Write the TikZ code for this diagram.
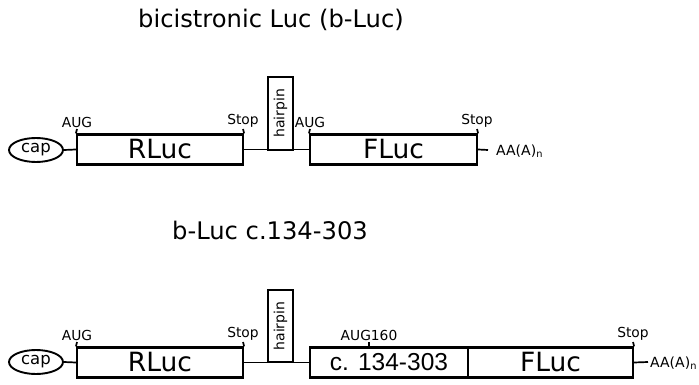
\documentclass[tikz,border=0pt]{standalone}
\usepackage{fontspec}
\setmainfont{DejaVu Sans}
\newfontfamily\arialf{Liberation Sans}
\usetikzlibrary{shapes.geometric}
\begin{document}
\begin{tikzpicture}[x=1pt,y=-1pt,
  genebox/.style={draw,line width=2.2pt,rectangle,inner sep=0pt,minimum height=30pt,font=\fontsize{26.5}{26.5}\selectfont},
  capnode/.style={draw,line width=1.9pt,ellipse,inner sep=0pt,minimum width=54pt,minimum height=24pt,font=\fontsize{16.5}{16.5}\selectfont},
  hpbox/.style={draw,line width=1.2pt,rectangle,inner sep=0pt,minimum width=25pt},
  hptext/.style={rotate=90,font=\fontsize{14}{14}\selectfont,inner sep=0pt},
  conn/.style={line width=1.7pt},
  tick/.style={line width=1.7pt},
  lab/.style={font=\fontsize{13.8}{14}\selectfont,inner sep=1pt,anchor=south},
  polya/.style={anchor=west,inner sep=0pt,font=\fontsize{14}{14}\selectfont},
  title/.style={font=\fontsize{24.2}{25}\selectfont}]
\useasboundingbox (0,0) rectangle (699,385);
% titles
\node[title] (t1) at (271,20) {bicistronic Luc (b-Luc)};
\node[title] (t2) at (270,230) {b-Luc c.134-303};
% row 1
\node[capnode] (cap1) at (36,150) {cap};
\node[genebox,minimum width=166pt] (rluc1) at (160,149.5) {RLuc};
\node[genebox,minimum width=167pt] (fluc1) at (393.5,149.5) {FLuc};
\node[hpbox,minimum height=73pt] (hp1) at (280.5,113.5) {};
\node[hptext] (hpt1) at (hp1.center) {hairpin};
\draw[conn] (cap1.east) -- (rluc1.west);
\draw[conn] (rluc1.east) -- (fluc1.west);
\coordinate (u1) at (77,129);
\coordinate (s1) at (243,129);
\coordinate (u1b) at (310,129);
\coordinate (s1b) at (477,129);
\draw[tick] (rluc1.north west) -- (u1);
\draw[tick] (rluc1.north east) -- (s1);
\draw[tick] (fluc1.north west) -- (u1b);
\draw[tick] (fluc1.north east) -- (s1b);
\node[lab] (lu1) at (u1) {AUG};
\node[lab] (ls1) at (s1) {Stop};
\node[lab] (lu1b) at (u1b) {AUG};
\node[lab] (ls1b) at (s1b) {Stop};
\coordinate (a1) at (488,150);
\draw[conn] (fluc1.east) -- (a1);
\node[polya] (pa1) at (496,151) {AA(A)\textsubscript{n}};
% row 2
\node[capnode] (cap2) at (36,362) {cap};
\node[genebox,minimum width=166pt] (rluc2) at (160,362.5) {RLuc};
\node[genebox,minimum width=158pt,font=\arialf\fontsize{24.5}{24.5}\selectfont] (c2) at (389,362.5) {c. 134-303};
\node[genebox,minimum width=165pt] (fluc2) at (550.5,362.5) {FLuc};
\node[hpbox,minimum height=72pt] (hp2) at (280.5,326) {};
\node[hptext] (hpt2) at (hp2.center) {hairpin};
\draw[conn] (cap2.east) -- (rluc2.west);
\draw[conn] (rluc2.east) -- (c2.west);
\coordinate (u2) at (77,342);
\coordinate (s2) at (243,342);
\coordinate (u2b) at (369,342);
\coordinate (u2c) at (369,347.5);
\coordinate (s2b) at (633,342);
\draw[tick] (rluc2.north west) -- (u2);
\draw[tick] (rluc2.north east) -- (s2);
\draw[tick] (u2c) -- (u2b);
\draw[tick] (fluc2.north east) -- (s2b);
\node[lab] (lu2) at (u2) {AUG};
\node[lab] (ls2) at (s2) {Stop};
\node[lab] (lu2b) at (u2b) {AUG160};
\node[lab] (ls2b) at (s2b) {Stop};
\coordinate (a2) at (648,362);
\draw[conn] (fluc2.east) -- (a2);
\node[polya] (pa2) at (650,363) {AA(A)\textsubscript{n}};
\end{tikzpicture}
\end{document}
